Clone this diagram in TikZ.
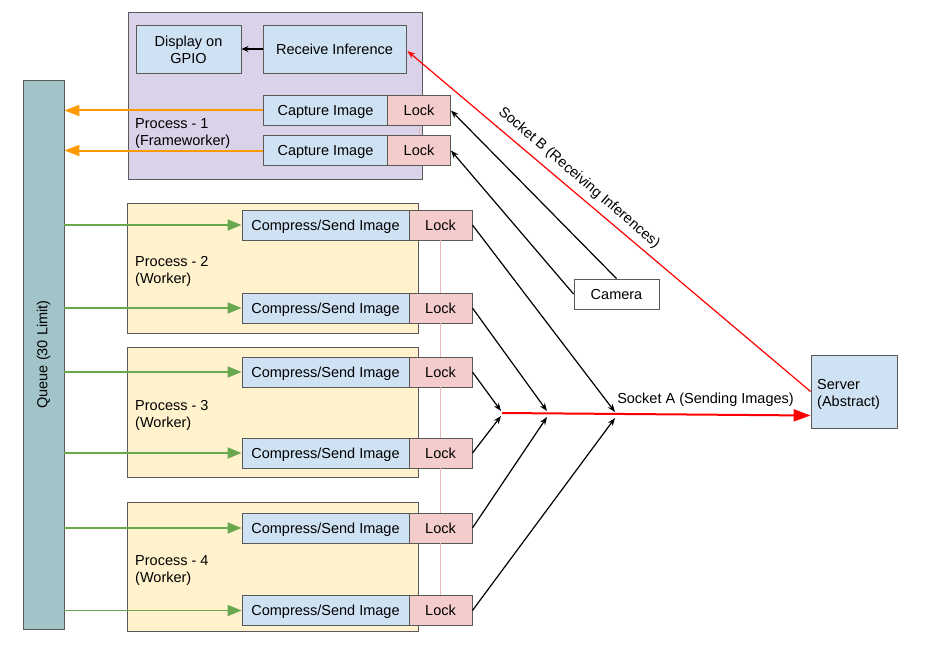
\documentclass[tikz,border=0pt]{standalone}
\usepackage{fontspec}
\setmainfont{Liberation Sans}
\usetikzlibrary{arrows.meta,calc}
\definecolor{purp}{HTML}{D9D2E9}
\definecolor{yel}{HTML}{FFF2CC}
\definecolor{blu}{HTML}{CFE2F3}
\definecolor{pnk}{HTML}{F4CCCC}
\definecolor{que}{HTML}{A2C4C9}
\definecolor{brd}{HTML}{595959}
\definecolor{org}{HTML}{FF9900}
\definecolor{grn}{HTML}{6AA84F}
\definecolor{lockline}{HTML}{E6B8B8}
\begin{document}
\begin{tikzpicture}[x=1pt,y=-1pt,
  every node/.style={font=\fontsize{14.5}{17}\selectfont, inner sep=2pt},
  sl/.style={text height=10.5pt, text depth=0pt},
  bx/.style={draw=brd, line width=0.9pt, rectangle, align=center},
  procbox/.style={bx, minimum width=291pt, fill=yel},
  cmp/.style={bx, sl, fill=blu, minimum width=167pt, minimum height=30pt},
  lck/.style={bx, sl, fill=pnk, minimum width=63pt, minimum height=30pt},
  lbl/.style={align=left, anchor=west},
  blk/.style={draw=black, line width=1.2pt, -{Stealth[length=8pt,width=6pt]}},
  orarrow/.style={draw=org, line width=2pt, -{Triangle[length=15pt,width=11pt]}},
  grarrow/.style={draw=grn, line width=1.8pt, -{Triangle[length=14pt,width=11pt]}},
  pline/.style={draw=lockline, line width=1pt}
]
\useasboundingbox[fill=white] (0,0) rectangle (934,650);

% Queue
\node[bx, fill=que, minimum width=41pt, minimum height=549pt] (q) at (43.5,354.5) {};
\node[rotate=90] (qt) at (q.center) {Queue (30 Limit)};

% Process 1
\node[bx, fill=purp, minimum width=294pt, minimum height=167pt] (p1) at (275,95.5) {};
\node[lbl] (p1t) at (133,133.5) {Process - 1\\(Frameworker)};
\node[bx, fill=blu, minimum width=105pt, minimum height=48pt] (disp) at (188.5,49) {};
\node[align=center] (dispt) at (188.5,50) {Display on\\GPIO};
\node[bx, sl, fill=blu, minimum width=143pt, minimum height=48pt] (recv) at (334.5,49) {Receive Inference};
\node[bx, sl, fill=blu, minimum width=125pt, minimum height=30pt] (c11) at (325.5,110.5) {Capture Image};
\node[lck, minimum width=63pt] (l11) at (419,110.5) {Lock};
\node[bx, sl, fill=blu, minimum width=125pt, minimum height=30pt] (c12) at (325.5,150.5) {Capture Image};
\node[lck, minimum width=63pt] (l12) at (419,150.5) {Lock};
\draw[pline] (l11.south) -- (l12.north);

% Process 2
\node[procbox, minimum height=130pt] (p2) at (272.5,268) {};
\node[lbl] (p2t) at (133,271.5) {Process - 2\\(Worker)};
\node[cmp] (c21) at (325.5,225) {Compress/Send Image};
\node[lck] (l21) at (440.5,225) {Lock};
\node[cmp] (c22) at (325.5,308) {Compress/Send Image};
\node[lck] (l22) at (440.5,308) {Lock};

% Process 3
\node[procbox, minimum height=130pt] (p3) at (272.5,412) {};
\node[lbl] (p3t) at (133,415.5) {Process - 3\\(Worker)};
\node[cmp] (c31) at (325.5,372) {Compress/Send Image};
\node[lck] (l31) at (440.5,372) {Lock};
\node[cmp] (c32) at (325.5,453) {Compress/Send Image};
\node[lck] (l32) at (440.5,453) {Lock};

% Process 4
\node[procbox, minimum height=129pt] (p4) at (272.5,566.5) {};
\node[lbl] (p4t) at (133,570.5) {Process - 4\\(Worker)};
\node[cmp] (c41) at (325.5,528) {Compress/Send Image};
\node[lck] (l41) at (440.5,528) {Lock};
\node[cmp] (c42) at (325.5,610.5) {Compress/Send Image};
\node[lck] (l42) at (440.5,610.5) {Lock};

\draw[pline] (l21.south) -- (l22.north);
\draw[pline] (l22.south) -- (l31.north);
\draw[pline] (l31.south) -- (l32.north);
\draw[pline] (l32.south) -- (l41.north);
\draw[pline] (l41.south) -- (l42.north);

% Camera and Server
\node[bx, sl, fill=white, minimum width=85pt, minimum height=30pt] (cam) at (616.5,294) {Camera};
\node[bx, fill=blu, minimum width=86pt, minimum height=73pt] (srv) at (854,391.5) {};
\node[lbl] (srvt) at (815,394.5) {Server\\(Abstract)};

% Orange arrows
\draw[orarrow] (c11.west) -- (q.east |- c11.west);
\draw[orarrow] (c12.west) -- (q.east |- c12.west);

% Green arrows
\foreach \c in {c21,c22,c31,c32,c41,c42}{
  \draw[grarrow] (q.east |- \c.west) -- (\c.west);
}

% Receive -> Display
\draw[draw=black, line width=1.2pt, -{Stealth[length=7pt,width=6pt]}] (recv.west) -- (disp.east);

% Camera -> locks
\draw[blk] (cam.north) -- (l11.east);
\draw[blk] (cam.west) -- (l12.east);

% junctions
\coordinate (j1a) at (615,412);
\coordinate (j2a) at (547,411);
\coordinate (j3a) at (501,411);
\coordinate (j3b) at (501,416);
\coordinate (j2b) at (547,417);
\coordinate (j1b) at (615,418);
\coordinate (sa) at (502,413);

% Socket A
\draw[draw=red, line width=2pt, -{Triangle[length=17pt,width=12pt]}] (sa) -- ($(srv.west)+(0,24)$);
\node[sl] (satext) at (705.5,398) {Socket A (Sending Images)};

\draw[blk] (l21.east) -- (j1a);
\draw[blk] (l22.east) -- (j2a);
\draw[blk] (l31.east) -- (j3a);
\draw[blk] (l32.east) -- (j3b);
\draw[blk] (l41.east) -- (j2b);
\draw[blk] (l42.east) -- (j1b);

% Socket B
\draw[draw=red, line width=1.2pt, -{Stealth[length=8pt,width=6pt]}] (srv.west) -- ($(recv.east)+(1,2)$);
\node[rotate=-40.6] (sbtext) at (579,178) {Socket B (Receiving Inferences)};
\end{tikzpicture}
\end{document}
